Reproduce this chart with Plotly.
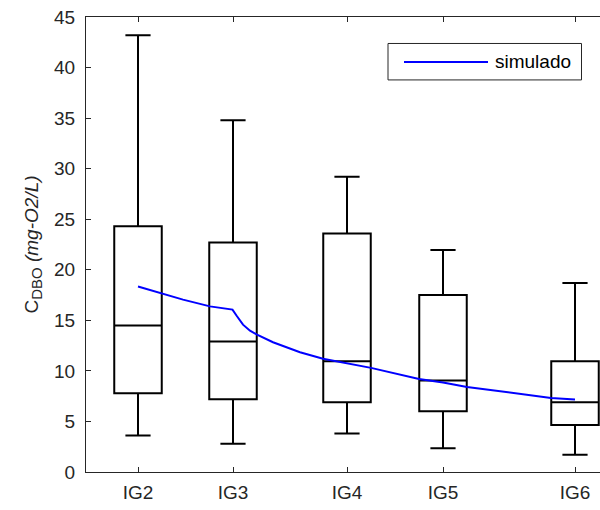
import plotly.graph_objects as go

# --- data ---
categories = ["IG2", "IG3", "IG4", "IG5", "IG6"]
positions = [0.0, 9.5, 20.9, 30.5, 43.7]
upper_whisker = [43.2, 34.8, 29.2, 21.95, 18.7]
q3_vals = [24.3, 22.7, 23.6, 17.5, 10.95]
median_vals = [14.5, 12.9, 10.95, 9.05, 6.9]
q1_vals = [7.8, 7.2, 6.9, 6.0, 4.66]
lower_whisker = [3.6, 2.8, 3.8, 2.35, 1.7]

sim_x = [0.0, 2.2, 4.5, 7.2, 9.45, 9.9, 10.5, 11.2, 11.9, 13.5, 16.2, 18.5, 20.9,
         23.3, 28.1, 30.5, 32.9, 37.0, 41.3, 43.7]
sim_y = [18.35, 17.71, 17.05, 16.38, 16.06, 15.4, 14.57, 13.98, 13.59, 12.83, 11.84,
         11.2, 10.75, 10.3, 9.2, 8.85, 8.4, 7.85, 7.33, 7.16]
series_name = "simulado"

AX = "#262626"
BLUE = "#0000FF"
FONT = "Liberation Sans, Arial, Helvetica, sans-serif"

fig = go.Figure()
fig.add_trace(go.Box(
    x=positions, q1=q1_vals, median=median_vals, q3=q3_vals,
    lowerfence=lower_whisker, upperfence=upper_whisker,
    width=4.75, whiskerwidth=0.53,
    line=dict(color="black", width=2), fillcolor="rgba(0,0,0,0)",
    boxpoints=False, showlegend=False, hoverinfo="skip",
))
fig.add_trace(go.Scatter(
    x=sim_x, y=sim_y, mode="lines", name=series_name,
    line=dict(color=BLUE, width=2), showlegend=False,
))

# MATLAB-style legend box (paper coordinates)
W, H = 600, 510
L, R, T, B = 86, 0, 17, 37.5
pw, ph = W - L - R, H - T - B
def px(xp): return (xp - L) / pw
def py(yp): return (H - B - yp) / ph

fig.add_shape(type="rect", xref="paper", yref="paper",
              x0=px(388), x1=px(581.5), y0=py(80), y1=py(43.5),
              line=dict(color=AX, width=1), fillcolor="white", layer="above")
fig.add_shape(type="line", xref="paper", yref="paper",
              x0=px(404), x1=px(488), y0=py(62), y1=py(62),
              line=dict(color=BLUE, width=2), layer="above")
fig.add_annotation(xref="paper", yref="paper", x=px(493), y=py(62),
                   text=series_name, showarrow=False, xanchor="left", yanchor="middle",
                   font=dict(size=19, color="black", family=FONT))

fig.update_layout(
    width=W, height=H,
    margin=dict(l=L, r=R, t=T, b=B),
    paper_bgcolor="white", plot_bgcolor="white",
    font=dict(family=FONT, size=19, color=AX),
    showlegend=False,
)
fig.update_xaxes(
    range=[-5.2, 46.2], tickvals=positions, ticktext=categories,
    ticks="inside", ticklen=5, tickcolor=AX, showline=True, linecolor=AX,
    linewidth=1, mirror="ticks", showgrid=False, zeroline=False,
    ticklabelstandoff=3,
)
fig.update_yaxes(
    range=[0, 45], tickvals=list(range(0, 46, 5)),
    ticks="inside", ticklen=5, tickcolor=AX, showline=True, linecolor=AX,
    linewidth=1, mirror=False, showgrid=False, zeroline=False,
    ticklabelstandoff=6,
    title=dict(text="C<sub><span style='font-size:15px'>DBO</span></sub> <i>(mg-O2/L)</i>",
               standoff=10, font=dict(size=19)),
)
fig.write_html("out.html")
